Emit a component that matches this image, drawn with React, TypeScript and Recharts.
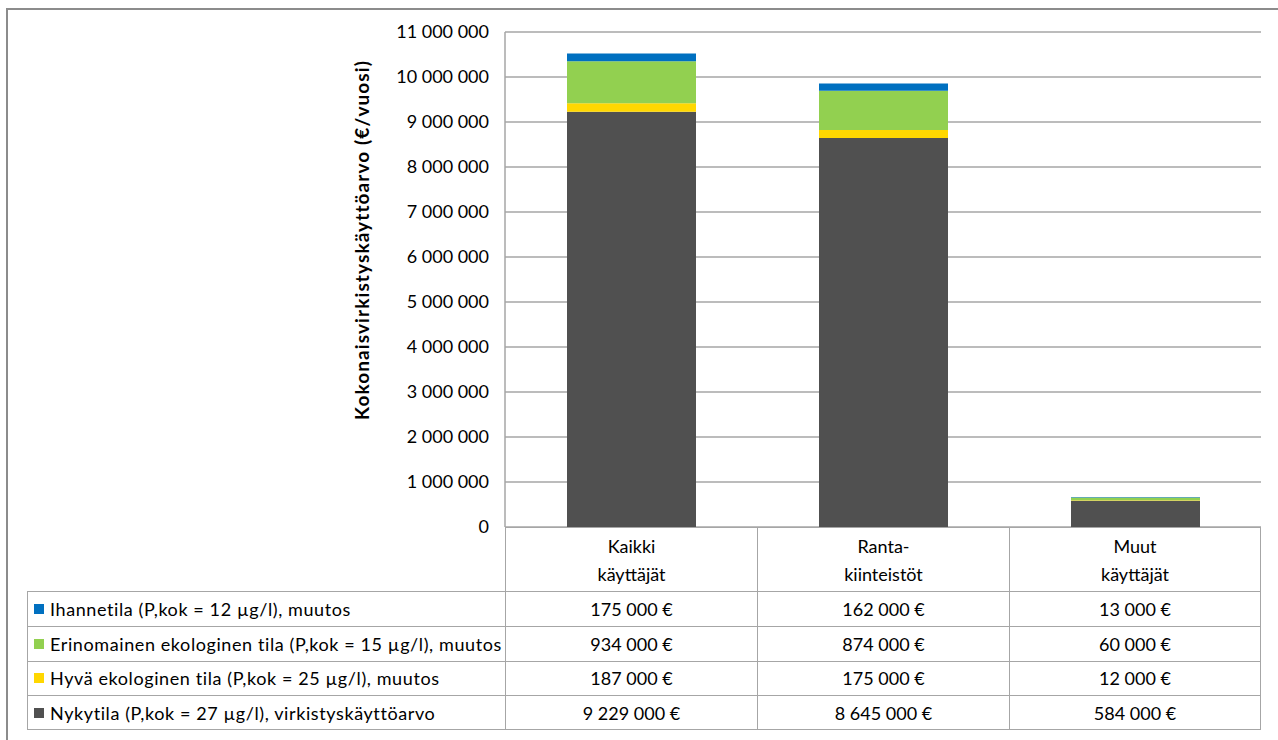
import React from "react";
import { BarChart, Bar, XAxis, YAxis, CartesianGrid } from "recharts";

const categories = ["Kaikki käyttäjät", "Ranta- kiinteistöt", "Muut käyttäjät"];
const categoryLines = [
  ["Kaikki", "käyttäjät"],
  ["Ranta-", "kiinteistöt"],
  ["Muut", "käyttäjät"],
];
const nykytila = [9229000, 8645000, 584000];
const hyva = [187000, 175000, 12000];
const erinomainen = [934000, 874000, 60000];
const ihanne = [175000, 162000, 13000];
const yTicks = [0, 1000000, 2000000, 3000000, 4000000, 5000000, 6000000, 7000000, 8000000, 9000000, 10000000, 11000000];

const series = [
  { key: "nykytila", name: "Nykytila (P,kok = 27 µg/l), virkistyskäyttöarvo", color: "#505050", values: nykytila },
  { key: "hyva", name: "Hyvä ekologinen tila (P,kok = 25 µg/l), muutos", color: "#FFD700", values: hyva },
  { key: "erinomainen", name: "Erinomainen ekologinen tila (P,kok = 15 µg/l), muutos", color: "#92D050", values: erinomainen },
  { key: "ihanne", name: "Ihannetila (P,kok = 12 µg/l), muutos", color: "#0070C0", values: ihanne },
];

const data = categories.map((name, i) => {
  const row: { [k: string]: string | number } = { name };
  series.forEach((s) => (row[s.key] = s.values[i]));
  return row;
});

const fmt = (v: number) => String(v).replace(/\B(?=(\d{3})+(?!\d))/g, " ");

const FONT = "Lato, 'Open Sans', sans-serif";
const LINE = "#A6A6A6";

// layout of the plot / data table (px)
const PLOT_LEFT = 505;
const PLOT_RIGHT = 1261;
const PLOT_TOP = 32;
const PLOT_BOTTOM = 527;
const COL_W = (PLOT_RIGHT - PLOT_LEFT) / 3;
const HEADER_BOTTOM = 591;
const ROW_H = 34.75;
const LEGEND_LEFT = 27;

const YLabel = () => {
  const x = 361;
  const y = 240;
  return (
    <text
      x={x}
      y={y}
      transform={`rotate(-90, ${x}, ${y})`}
      textAnchor="middle"
      dominantBaseline="central"
      style={{ fontFamily: FONT, fontSize: 19, fontWeight: 700, fill: "#000", letterSpacing: 1.1 }}
    >
      Kokonaisvirkistyskäyttöarvo (€/vuosi)
    </text>
  );
};

export default function App() {
  const tableRows = [...series].reverse();
  return (
    <div
      style={{
        position: "absolute",
        left: 0,
        top: 0,
        width: 1278,
        height: 740,
        background: "#fff",
        overflow: "hidden",
        fontFamily: FONT,
      }}
    >
      <div
        style={{
          position: "absolute",
          left: 6,
          top: 8,
          width: 1300,
          height: 760,
          borderLeft: "2px solid #8C8C8C",
          borderTop: "2px solid #8C8C8C",
        }}
      />
      <div style={{ position: "absolute", left: 0, top: 0 }}>
        <BarChart
          width={1278}
          height={740}
          data={data}
          margin={{ top: PLOT_TOP, right: 1278 - PLOT_RIGHT, bottom: 740 - PLOT_BOTTOM, left: 0 }}
        >
          <CartesianGrid vertical={false} stroke={LINE} strokeWidth={1.5} />
          <XAxis dataKey="name" hide />
          <YAxis
            width={PLOT_LEFT}
            domain={[0, 11000000]}
            ticks={yTicks}
            interval={0}
            tickFormatter={fmt}
            tickLine={false}
            axisLine={{ stroke: LINE, strokeWidth: 1.5 }}
            tickMargin={10}
            tick={{ fill: "#000", fontSize: 18, fontFamily: FONT }}
            label={<YLabel />}
          />
          {series.map((s) => (
            <Bar
              key={s.key}
              dataKey={s.key}
              name={s.name}
              stackId="a"
              fill={s.color}
              barSize={129}
              isAnimationActive={false}
            />
          ))}
        </BarChart>
      </div>

      {/* data table: category header */}
      {categoryLines.map((lines, i) => (
        <div
          key={"h" + i}
          style={{
            position: "absolute",
            left: PLOT_LEFT + i * COL_W,
            top: PLOT_BOTTOM,
            width: COL_W,
            height: HEADER_BOTTOM - PLOT_BOTTOM,
            boxSizing: "border-box",
            borderLeft: `1.5px solid ${LINE}`,
            borderRight: i === 2 ? `1.5px solid ${LINE}` : undefined,
            borderTop: `1.5px solid ${LINE}`,
            display: "flex",
            flexDirection: "column",
            justifyContent: "center",
            alignItems: "center",
            fontSize: 18,
            lineHeight: "28px",
            color: "#000",
          }}
        >
          {lines.map((l) => (
            <div key={l}>{l}</div>
          ))}
        </div>
      ))}

      {/* data table: series rows */}
      {tableRows.map((s, r) => {
        const top = HEADER_BOTTOM + r * ROW_H;
        const last = r === tableRows.length - 1;
        return (
          <React.Fragment key={s.key}>
            <div
              style={{
                position: "absolute",
                left: LEGEND_LEFT,
                top,
                width: PLOT_LEFT - LEGEND_LEFT,
                height: ROW_H,
                boxSizing: "border-box",
                borderLeft: `1.5px solid ${LINE}`,
                borderTop: `1.5px solid ${LINE}`,
                borderBottom: last ? `1.5px solid ${LINE}` : undefined,
                display: "flex",
                alignItems: "center",
                fontSize: 18,
                letterSpacing: 0.6,
                color: "#000",
                whiteSpace: "nowrap",
              }}
            >
              <span
                style={{
                  display: "inline-block",
                  width: 10,
                  height: 10,
                  background: s.color,
                  marginLeft: 6,
                  marginRight: 6,
                }}
              />
              {s.name}
            </div>
            {s.values.map((v, i) => (
              <div
                key={i}
                style={{
                  position: "absolute",
                  left: PLOT_LEFT + i * COL_W,
                  top,
                  width: COL_W,
                  height: ROW_H,
                  boxSizing: "border-box",
                  borderLeft: `1.5px solid ${LINE}`,
                  borderRight: i === 2 ? `1.5px solid ${LINE}` : undefined,
                  borderTop: `1.5px solid ${LINE}`,
                  borderBottom: last ? `1.5px solid ${LINE}` : undefined,
                  display: "flex",
                  alignItems: "center",
                  justifyContent: "center",
                  fontSize: 18,
                  color: "#000",
                }}
              >
                {fmt(v)} €
              </div>
            ))}
          </React.Fragment>
        );
      })}
    </div>
  );
}
